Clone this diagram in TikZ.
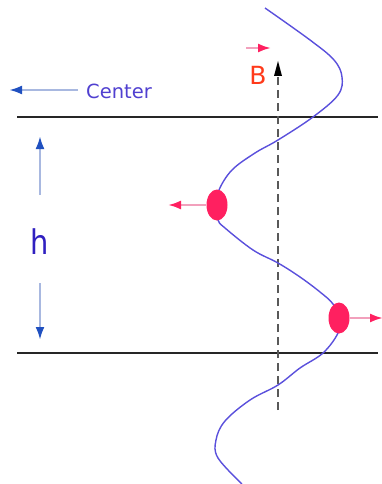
\documentclass[tikz,border=0pt]{standalone}
\usepackage{fontspec}
\setmainfont{DejaVu Sans}
\usetikzlibrary{arrows.meta,shapes.geometric}
\definecolor{wave}{HTML}{5A50DC}
\definecolor{bead}{HTML}{FF2060}
\definecolor{pinkline}{HTML}{F2A0BC}
\definecolor{lblue}{HTML}{A8B8E0}
\definecolor{dblue}{HTML}{2050C0}
\definecolor{ctext}{HTML}{5040D0}
\definecolor{htext}{HTML}{3020C0}
\definecolor{btext}{HTML}{FF3A1A}
\tikzset{
  wall/.style={line width=2.2pt, draw=black!85},
  beadnode/.style={ellipse, fill=bead, draw=none, minimum width=21pt, minimum height=31pt, inner sep=0pt},
  forcearrow/.style={line width=2.2pt, draw=pinkline, -{Latex[length=13pt,width=9pt,color=bead]}},
  bluearrow/.style={line width=2.4pt, draw=lblue, -{Latex[length=13pt,width=9pt,color=dblue]}},
}
\begin{document}
\begin{tikzpicture}[x=1pt,y=-1pt]
\useasboundingbox (0,0) rectangle (382,484);
% walls
\coordinate (tl) at (17,117); \coordinate (tr) at (378,117);
\coordinate (bl) at (17,353); \coordinate (br) at (378,353);
\draw[wall] (tl) -- (tr);
\draw[wall] (bl) -- (br);
% dashed axis
\coordinate (ab) at (278,410); \coordinate (at) at (278,61);
\draw[line width=1.3pt, draw=black!65, dash pattern=on 8pt off 5pt] (ab) -- (278,72);
\fill[black] (at) -- (274,76) -- (282,76) -- cycle;
% wave
\draw[wave, line width=1.4pt] plot[smooth, tension=0.6] coordinates {
 (265,8) (310,40) (334,60) (342,77) (338,95) (313,117) (278,140) (255,153) (232,170) (219,190) (217,205)
 (218,220) (225,228) (253,250) (278,263) (300,277) (320,292) (333,304) (339,318) (338,333) (323,353)
 (300,368) (278,385) (250,400) (225,421) (216,440) (218,458) (242,484)};
% beads
\node[beadnode] (b1) at (217,205) {};
\node[beadnode] (b2) at (339,318) {};
\coordinate (f1) at (168,205);
\coordinate (f2) at (383,318);
\draw[forcearrow] (b1.west) -- (f1);
\draw[forcearrow] (b2.east) -- (f2);
% B
\coordinate (p1) at (246,48); \coordinate (p2) at (271,48);
\draw[forcearrow] (p1) -- (p2);
\node[text=btext, font=\fontsize{25}{25}\selectfont, inner sep=0pt] (B) at (258,75) {B};
% center
\node[text=ctext, font=\fontsize{19.5}{20}\selectfont, anchor=west, inner sep=0pt] (C) at (86,91) {Center};
\coordinate (c0) at (9,90);
\draw[bluearrow] (78,90) -- (c0);
% h
\node[text=htext, font=\fontsize{34}{34}\selectfont, inner sep=0pt, xscale=0.85] (h) at (40,242) {h};
\coordinate (h1) at (40,136); \coordinate (h2) at (40,340);
\coordinate (h1s) at (40,195); \coordinate (h2s) at (40,283);
\draw[bluearrow] (h1s) -- (h1);
\draw[bluearrow] (h2s) -- (h2);
\end{tikzpicture}
\end{document}
